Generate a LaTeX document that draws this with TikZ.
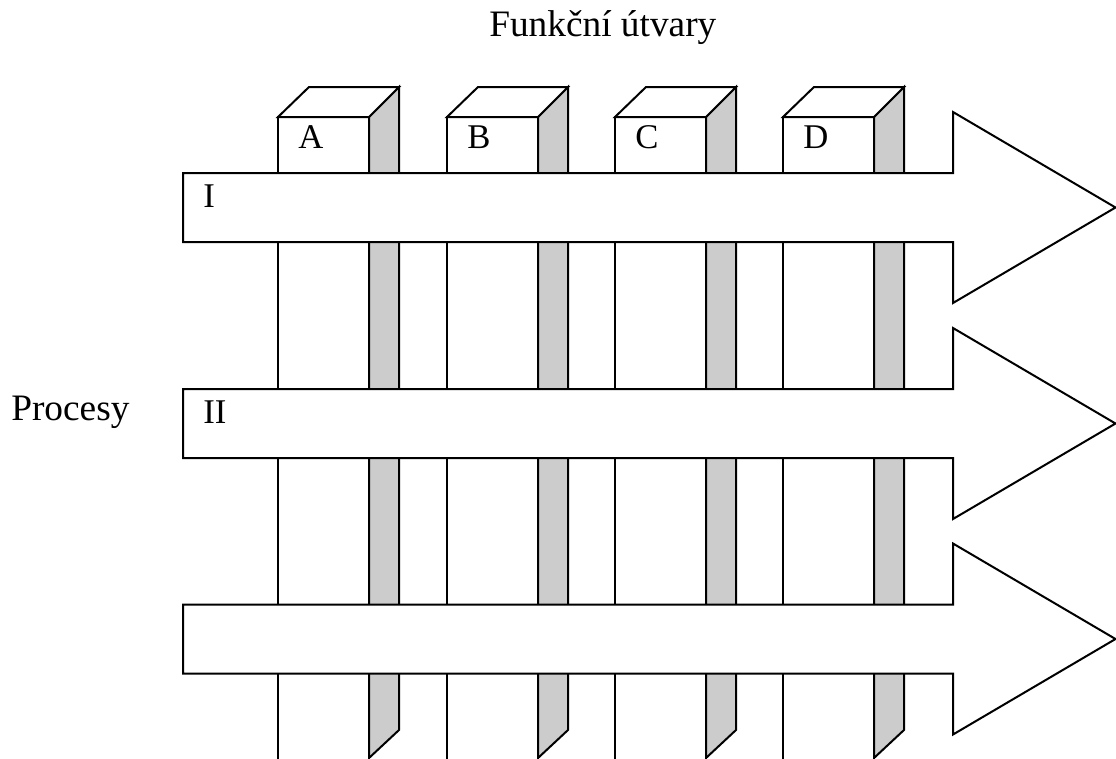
\documentclass[tikz,border=0pt]{standalone}
\usepackage{fontspec}
\setmainfont{Liberation Serif}
\begin{document}
\begin{tikzpicture}[x=0.75pt,y=-0.75pt,
  ln/.style={line width=1.5pt,line join=miter},
  front/.style={ln,fill=white},
  side/.style={ln,fill=black!20},
  procarrow/.style={ln,fill=white},
  lbl/.style={anchor=base west,inner sep=0pt,font=\fontsize{26pt}{30pt}\selectfont},
  biglbl/.style={lbl,font=\fontsize{28pt}{32pt}\selectfont}]
\useasboundingbox (0,0) rectangle (1116,758);
\begin{scope}
\clip (0,0) rectangle (1116,758);
% columns
\foreach \x/\t in {278/A,447/B,615/C,783/D}{
  \draw[side] (\x+91,117) -- (\x+121,87) -- (\x+121,730) -- (\x+91,758) -- cycle;
  \draw[front] (\x,760) -- (\x,117) -- (\x+91,117) -- (\x+91,760);
  \draw[front] (\x,117) -- (\x+31,87) -- (\x+121,87) -- (\x+91,117) -- cycle;
  \node[lbl] (col\t) at (\x+20,148) {\t};
}
% process arrows
\foreach \c/\n in {207.5/p1,423.5/p2,639/p3}{
  \draw[procarrow] (183,\c-34.5) -- (953,\c-34.5) -- (953,\c-95.5) -- (1115.5,\c) -- (953,\c+95.5) -- (953,\c+34.5) -- (183,\c+34.5) -- cycle;
}
\end{scope}
\node[lbl] (lI) at (203,207) {I};
\node[lbl] (lII) at (203,423) {II};
\node[biglbl] (title) at (489,36) {Funkční útvary};
\node[biglbl] (proc) at (11,420) {Procesy};
\end{tikzpicture}
\end{document}
